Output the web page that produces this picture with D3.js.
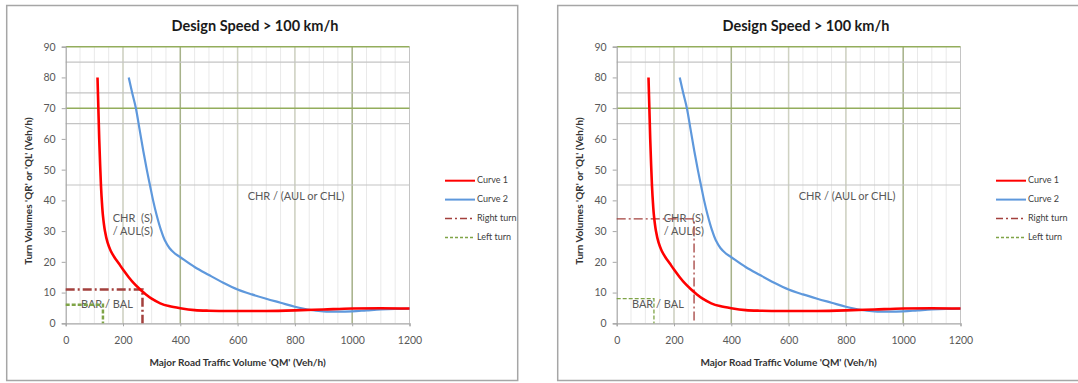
<!DOCTYPE html>
<html>
<head>
<meta charset="utf-8">
<script src="https://cdn.jsdelivr.net/npm/d3@7"></script>
<style>
  body { margin: 0; background: #fff; }
  svg { display: block; font-family: Lato, "Liberation Sans", sans-serif; }
  text { white-space: pre; }
</style>
</head>
<body>
<svg id="chart" width="1078" height="383"></svg>
<script>
// axis ticks
const xTicks = [0, 200, 400, 600, 800, 1000, 1200];
const yTicks = [0, 10, 20, 30, 40, 50, 60, 70, 80, 90];

// odd gridlines of the original sheet
const hGridGray = [45, 65, 75, 85];
const hGridGreen = [70, 90];
const vGridMinor = d3.range(50, 1200, 50);
const vGridMid = [200, 600, 800];
const vGridMajor = [400, 1000];

// curves: [QM, QR/QL]
const curve1 = [
  [111, 80], [114, 70], [117, 60], [120, 52], [123, 45], [126, 40], [130, 35],
  [137, 30], [146, 26.3], [157, 23.6], [170, 21.5], [185, 19.5], [200, 17.5],
  [220, 15], [240, 12.8], [260, 11], [280, 9.4], [300, 8], [330, 6.5],
  [360, 5.6], [400, 4.9], [450, 4.3], [500, 4.1], [600, 4], [700, 4],
  [800, 4.2], [900, 4.5], [1000, 4.8], [1100, 4.9], [1200, 4.8]
];
const curve2 = [
  [220, 80], [232, 75], [245, 70], [258, 63], [271, 56], [283, 50], [294, 45],
  [305, 40], [318, 35], [332, 30.5], [346, 27], [362, 24.5], [380, 22.8], [400, 21.5],
  [450, 18.3], [500, 15.7], [550, 13.2], [600, 11], [650, 9.4], [700, 8],
  [750, 6.7], [800, 5.4], [850, 4.4], [900, 3.9], [950, 3.8], [1000, 3.9],
  [1050, 4.2], [1100, 4.5], [1150, 4.7], [1200, 4.8]
];

// example turn lines, one pair per panel
const rightTurnA = [[0, 11], [268, 11], [268, 0]];
const leftTurnA = [[0, 6], [130, 6], [130, 0]];
const rightTurnB = [[0, 34], [270, 34], [270, 0]];
const leftTurnB = [[0, 8], [130, 8], [130, 0]];

const legendNames = ["Curve 1", "Curve 2", "Right turn", "Left turn"];

const titleText = "Design Speed > 100 km/h";
const xTitle = "Major Road Traffic Volume 'QM' (Veh/h)";
const yTitle = "Turn Volumes 'QR' or 'QL' (Veh/h)";

const colors = {
  c1: "#ff0000",
  c2: "#5e98dc",
  right: "#a3403d",
  left: "#7fa447",
  gridGreen: "#93ad5c",
  gridGray: "#c4c4c4",
  vMajor: "#a7b28a",
  vMid: "#cfd2c2",
  vMinor: "#e9e9e9",
  text: "#595959"
};

const svg = d3.select("#chart");

const plotW = 343.8, plotH = 276.6;

function drawPanel(dx, panelW, rightTurn, leftTurn, turnWidth) {
  const g = svg.append("g").attr("transform", `translate(${dx},0)`);

  g.append("rect")
    .attr("x", 6.7).attr("y", 5.5)
    .attr("width", panelW).attr("height", 375)
    .attr("fill", "#fff")
    .attr("stroke", "#a6a6a6")
    .attr("stroke-width", 1.5);

  const x = d3.scaleLinear().domain([0, 1200]).range([65.7, 65.7 + plotW]);
  const y = d3.scaleLinear().domain([0, 90]).range([323.3, 323.3 - plotH]);

  const grid = g.append("g");
  const vline = (vals, color, w) => grid.selectAll(null).data(vals).join("line")
    .attr("x1", d => x(d)).attr("x2", d => x(d))
    .attr("y1", y(0)).attr("y2", y(90))
    .attr("stroke", color).attr("stroke-width", w);
  const hline = (vals, color, w) => grid.selectAll(null).data(vals).join("line")
    .attr("x1", x(0)).attr("x2", x(1200))
    .attr("y1", d => y(d)).attr("y2", d => y(d))
    .attr("stroke", color).attr("stroke-width", w);

  vline(vGridMinor, colors.vMinor, 1);
  vline(vGridMid, colors.vMid, 1.5);
  vline(vGridMajor, colors.vMajor, 1.5);
  vline([1200], colors.gridGray, 1);
  hline(hGridGray, colors.gridGray, 1.2);
  hline(hGridGreen, colors.gridGreen, 1.5);

  // axes
  const yAxis = g.append("g")
    .attr("transform", `translate(${x(0)},0)`)
    .call(d3.axisLeft(y).tickValues(yTicks).tickSize(4).tickPadding(6));
  const xAxis = g.append("g")
    .attr("transform", `translate(0,${y(0)})`)
    .call(d3.axisBottom(x).tickValues(xTicks).tickFormat(d3.format("d"))
      .tickSize(3).tickPadding(10));
  [xAxis, yAxis].forEach(a => {
    a.select(".domain").attr("stroke", "#a6a6a6").attr("stroke-width", 1.2);
    a.selectAll(".tick line").attr("stroke", "#a6a6a6");
    a.selectAll("text").attr("fill", colors.text)
      .attr("font-size", 10.5).attr("font-family", "Lato, sans-serif");
  });

  // region labels
  const note = (txt, vx, vy) => g.append("text")
    .attr("x", x(vx)).attr("y", y(vy))
    .attr("dominant-baseline", "middle")
    .attr("fill", colors.text).attr("font-size", 11)
    .text(txt);
  note("CHR / (AUL or CHL)", 635, 40.9);
  note("CHR  (S)", 164, 34);
  note("/ AUL(S)", 164, 29.5);
  note("BAR / BAL", 53, 5.9);

  const line = d3.line().x(d => x(d[0])).y(d => y(d[1]));
  const smooth = d3.line().x(d => x(d[0])).y(d => y(d[1]))
    .curve(d3.curveCatmullRom.alpha(0.5));

  g.append("path").datum(leftTurn).attr("d", line)
    .attr("fill", "none").attr("stroke", colors.left)
    .attr("stroke-width", turnWidth).attr("stroke-dasharray", "4,2");
  g.append("path").datum(rightTurn).attr("d", line)
    .attr("fill", "none").attr("stroke", colors.right)
    .attr("stroke-width", turnWidth).attr("stroke-dasharray", "9,3,2,3");

  g.append("path").datum(curve2).attr("d", smooth)
    .attr("fill", "none").attr("stroke", colors.c2).attr("stroke-width", 2.2);
  g.append("path").datum(curve1).attr("d", smooth)
    .attr("fill", "none").attr("stroke", colors.c1).attr("stroke-width", 2.6);

  // titles
  g.append("text")
    .attr("x", 255).attr("y", 27)
    .attr("text-anchor", "middle").attr("dominant-baseline", "middle")
    .attr("font-weight", "bold").attr("font-size", 14.5).attr("fill", "#1a1a1a")
    .text(titleText);
  g.append("text")
    .attr("x", (x(0) + x(1200)) / 2).attr("y", 363)
    .attr("text-anchor", "middle").attr("dominant-baseline", "middle")
    .attr("font-weight", "bold").attr("font-size", 10).attr("fill", "#333")
    .text(xTitle);
  g.append("text")
    .attr("transform", `translate(29,191) rotate(-90)`)
    .attr("text-anchor", "middle").attr("dominant-baseline", "middle")
    .attr("font-weight", "bold").attr("font-size", 10).attr("fill", "#333")
    .text(yTitle);

  // legend
  const legendStyles = [
    {color: colors.c1, width: 2, dash: null},
    {color: colors.c2, width: 2, dash: null},
    {color: colors.right, width: 1.5, dash: "7,3,2,3"},
    {color: colors.left, width: 1.5, dash: "3,2"}
  ];
  const lg = g.append("g").selectAll("g").data(legendNames).join("g")
    .attr("transform", (d, i) => `translate(445,${180.7 + i * 18.9})`);
  lg.append("line")
    .attr("x1", 0).attr("x2", 30)
    .attr("stroke", (d, i) => legendStyles[i].color)
    .attr("stroke-width", (d, i) => legendStyles[i].width)
    .attr("stroke-dasharray", (d, i) => legendStyles[i].dash);
  lg.append("text")
    .attr("x", 32).attr("dominant-baseline", "middle")
    .attr("font-size", 9).attr("fill", "#404040")
    .text(d => d);
}

drawPanel(0, 511, rightTurnA, leftTurnA, 2.5);
drawPanel(551, 540, rightTurnB, leftTurnB, 1.3);
</script>
</body>
</html>
